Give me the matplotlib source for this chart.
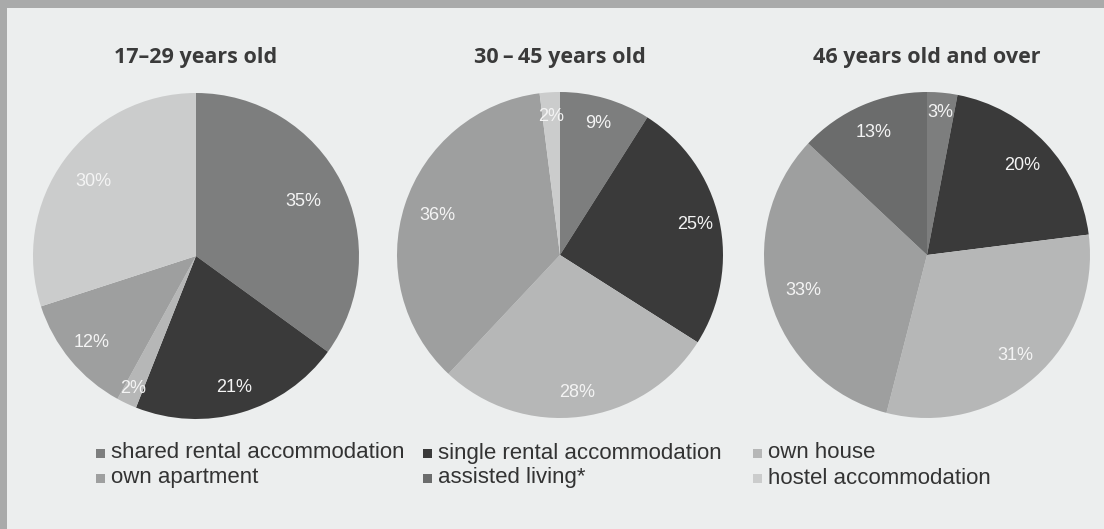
import matplotlib
matplotlib.use("Agg")
import matplotlib.pyplot as plt
from matplotlib.patches import Rectangle
import numpy as np

# ---------------------------------------------------------------------------
# Data
# ---------------------------------------------------------------------------
categories = ["shared rental accommodation", "single rental accommodation",
              "own house", "own apartment", "assisted living*",
              "hostel accommodation"]
age_groups = ["17\u201329 years old", "30\u2009\u2013\u200945 years old",
              "46 years old and over"]
share_17_29 = [35, 21, 2, 12, 0, 30]
share_30_45 = [9, 25, 28, 36, 0, 2]
share_46_up = [3, 20, 31, 33, 13, 0]

colors = ["#7d7e7e", "#3a3a3a", "#b6b7b7", "#9e9f9f", "#6b6c6c", "#cbcccc"]

# radial position of the % labels (fraction of radius), per non-zero slice
label_r = [
    [0.74, 0.84, 0.90, 0.83, 0.78],
    [0.84, 0.85, 0.85, 0.79, 0.85],
    [0.88, 0.80, 0.82, 0.79, 0.82],
]

# ---------------------------------------------------------------------------
# Figure
# ---------------------------------------------------------------------------
W, H = 1104, 529
fig = plt.figure(figsize=(W / 100, H / 100), dpi=100, facecolor="#eceeee")

# scanned-page frame: grey band at top and left
fig.patches.append(Rectangle((0, 1 - 8 / H), 1, 8 / H, transform=fig.transFigure,
                             facecolor="#a9aaaa", edgecolor="none", zorder=0))
fig.patches.append(Rectangle((0, 0), 7 / W, 1, transform=fig.transFigure,
                             facecolor="#a9aaaa", edgecolor="none", zorder=0))

centers = [(196, 256), (560, 255), (927, 255)]
radius = 163
title_y = 57

for k, (vals, title) in enumerate(zip([share_17_29, share_30_45, share_46_up], age_groups)):
    cx, cy = centers[k]
    keep = [i for i, v in enumerate(vals) if v > 0]
    v = [vals[i] for i in keep]
    c = [colors[i] for i in keep]

    ax = fig.add_axes([(cx - radius) / W, (H - cy - radius) / H,
                       2 * radius / W, 2 * radius / H])
    wedges, _, autotexts = ax.pie(v, colors=c, startangle=90, counterclock=False,
                                  autopct="%d%%", pctdistance=0.8,
                                  wedgeprops=dict(linewidth=0),
                                  textprops=dict(color="#f4f4f4", fontsize=13,
                                                 family="Liberation Sans"))
    for w, t, r in zip(wedges, autotexts, label_r[k]):
        ang = np.deg2rad((w.theta1 + w.theta2) / 2)
        t.set_position((r * np.cos(ang), r * np.sin(ang)))
    ax.set_xlim(-1, 1)
    ax.set_ylim(-1, 1)
    ax.set_aspect("equal")
    ax.axis("off")

    fig.text(cx / W, 1 - title_y / H, title, ha="center", va="center",
             fontsize=15.5, fontweight="bold", family="Open Sans", color="#3a3a3a")

# legend, laid out in 3 columns x 2 rows
col_x = [100, 427, 757]
row_y = [453, 478]
for i, (name, col) in enumerate(zip(categories, colors)):
    x, y = col_x[i % 3], row_y[i // 3]
    fig.patches.append(Rectangle(((x - 4.5) / W, 1 - (y + 4.5) / H), 9 / W, 9 / H,
                                 transform=fig.transFigure, facecolor=col,
                                 edgecolor="none"))
    fig.text((x + 11) / W, 1 - y / H, name, ha="left", va="center",
             fontsize=16, family="Liberation Sans", color="#333333")

fig.savefig("out.png", dpi=100, facecolor=fig.get_facecolor())
